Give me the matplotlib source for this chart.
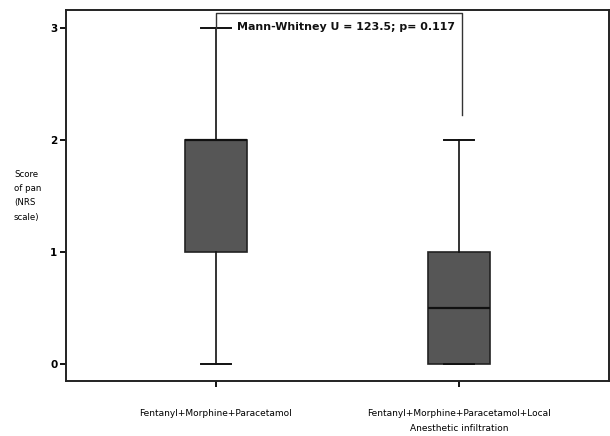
import matplotlib
matplotlib.use("Agg")
import matplotlib.pyplot as plt

categories = ["Fentanyl+Morphine+Paracetamol",
              "Fentanyl+Morphine+Paracetamol+Local\nAnesthetic infiltration"]
mins = [0, 0]
q1s = [1, 0]
medians = [2, 0.5]
q3s = [2, 1]
maxs = [3, 2]
yticks = [0, 1, 2, 3]
annotation = "Mann-Whitney U = 123.5; p= 0.117"
ylabel = "Score\nof pan\n(NRS\nscale)"

stats = [dict(whislo=mn, q1=a, med=m, q3=b, whishi=mx, label=c)
         for mn, a, m, b, mx, c in zip(mins, q1s, medians, q3s, maxs, categories)]

fig = plt.figure(figsize=(6.1, 4.36), dpi=100)
ax = fig.add_axes([0.108, 0.126, 0.89, 0.851])

bp = ax.bxp(stats, positions=[1, 2], widths=0.255, capwidths=0.123,
            showfliers=False, patch_artist=True,
            boxprops=dict(facecolor="#565656", edgecolor="#222222", linewidth=1.2),
            medianprops=dict(color="#111111", linewidth=1.6),
            whiskerprops=dict(color="#111111", linewidth=1.2),
            capprops=dict(color="#111111", linewidth=1.4))

ax.set_xlim(0.383, 2.617)
ax.set_ylim(-0.152, 3.16)
ax.set_yticks(yticks)
ax.set_yticklabels([str(t) for t in yticks], fontweight="bold", fontsize=7.5)
ax.set_xticks([1, 2])
ax.set_xticklabels(categories, fontsize=6.5, linespacing=1.95, va="top")
ax.tick_params(axis="x", length=4, width=1.3, pad=16)
ax.tick_params(axis="y", length=4, width=1.3, pad=2)
for s in ax.spines.values():
    s.set_linewidth(1.4)
    s.set_color("#222222")

# significance bracket
ax.plot([1, 1, 2.015, 2.015], [3.0, 3.134, 3.134, 2.223],
        color="#333333", linewidth=1.0, clip_on=False)
ax.text(1.086, 3.01, annotation, fontsize=7.9, fontweight="bold",
        va="center", ha="left", color="#111111")

fig.text(0.023, 0.551, ylabel, fontsize=6.2, ha="left", va="center",
         linespacing=1.75)

fig.savefig("out.png", dpi=100)
